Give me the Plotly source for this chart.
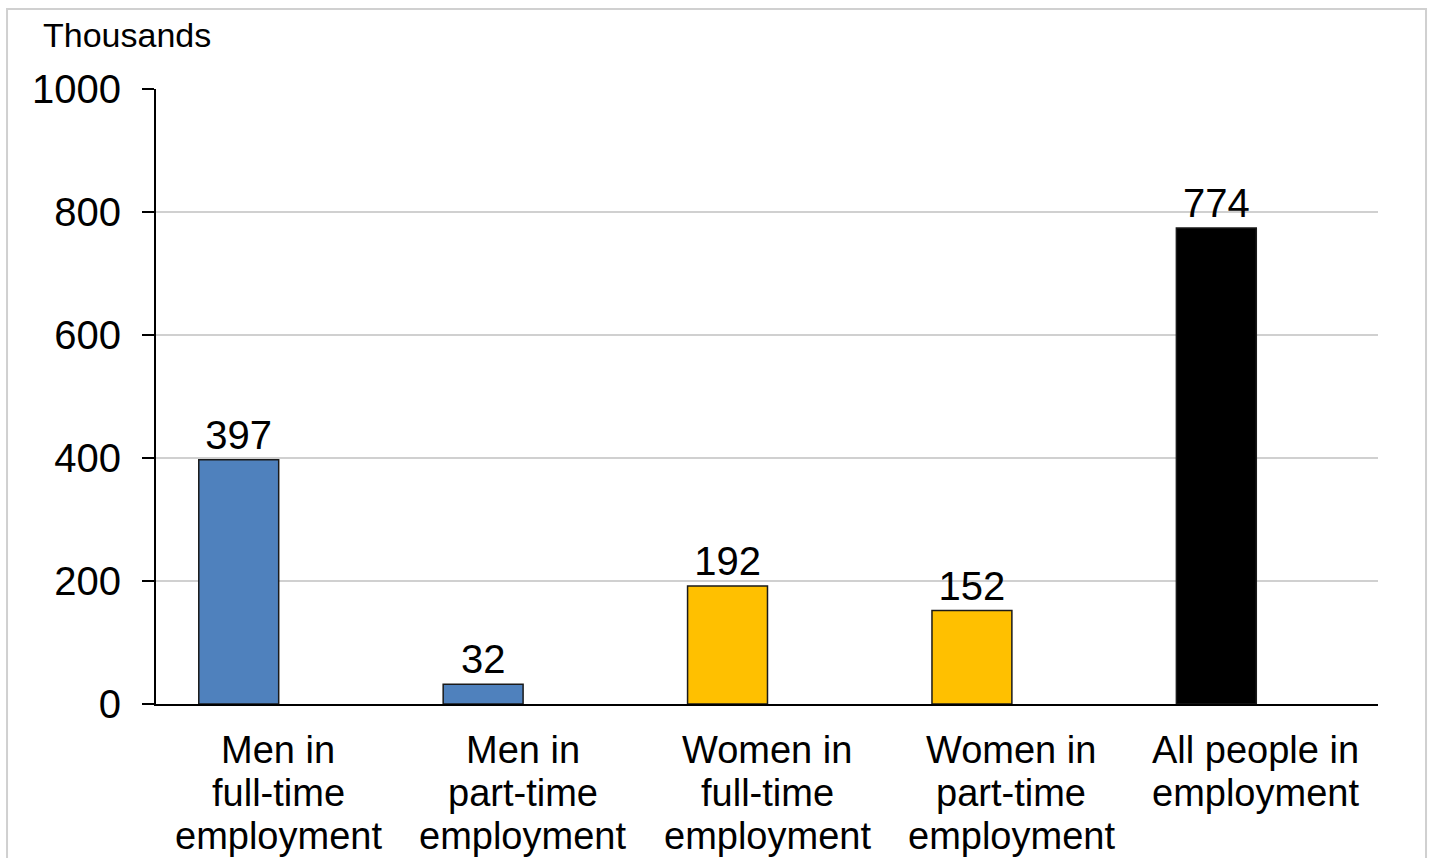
import plotly.graph_objects as go

categories = [
    "Men in full-time employment",
    "Men in part-time employment",
    "Women in full-time employment",
    "Women in part-time employment",
    "All people in employment",
]
category_lines = [
    ["Men in", "full-time", "employment"],
    ["Men in", "part-time", "employment"],
    ["Women in", "full-time", "employment"],
    ["Women in", "part-time", "employment"],
    ["All people in", "employment"],
]
values = [397, 32, 192, 152, 774]
bar_colors = ["#4F81BD", "#4F81BD", "#FFC000", "#FFC000", "#000000"]
y_ticks = [0, 200, 400, 600, 800, 1000]

FONT = "Liberation Sans, Arial, sans-serif"

fig = go.Figure(
    go.Bar(
        x=categories,
        y=values,
        marker=dict(color=bar_colors, line=dict(color="#1a1a1a", width=1.5)),
        width=0.327,
        offset=-0.325,
        text=[str(v) for v in values],
        textposition="outside",
        textfont=dict(family=FONT, size=40, color="#000000"),
        cliponaxis=False,
    )
)

fig.update_layout(
    width=1430,
    height=858,
    margin=dict(l=156, r=52, t=89, b=154, autoexpand=False),
    paper_bgcolor="white",
    plot_bgcolor="white",
    showlegend=False,
    font=dict(family=FONT, color="#000000"),
)

fig.update_yaxes(
    range=[0, 1000],
    tickvals=y_ticks,
    ticktext=[str(t) for t in y_ticks],
    showgrid=True,
    gridcolor="#D0D0D0",
    gridwidth=1.5,
    showline=True,
    linecolor="#000000",
    linewidth=2,
    ticks="outside",
    ticklen=12,
    tickwidth=2,
    tickcolor="#000000",
    tickfont=dict(family=FONT, size=40, color="#000000"),
    ticklabelstandoff=13,
    zeroline=False,
    automargin=False,
)

fig.update_xaxes(
    showline=True,
    linecolor="#000000",
    linewidth=2,
    ticks="",
    showticklabels=False,
    automargin=False,
)

# Category labels, one annotation per line for tighter line spacing
for cat, lines in zip(categories, category_lines):
    for i, line in enumerate(lines):
        fig.add_annotation(
            text=line,
            xref="x", yref="paper",
            x=cat, y=0,
            xanchor="center", yanchor="middle",
            yshift=-(46 + 43 * i),
            showarrow=False,
            borderpad=0,
            font=dict(family=FONT, size=38, color="#000000"),
        )

fig.add_annotation(
    text="Thousands",
    xref="paper", yref="paper",
    x=-0.0945, y=1.088,
    xanchor="left", yanchor="middle",
    showarrow=False,
    font=dict(family=FONT, size=34, color="#000000"),
)

fig.add_shape(
    type="rect",
    xref="paper", yref="paper",
    x0=-0.1219, x1=1.0393, y0=-0.4, y1=1.130,
    line=dict(color="#D0D0D0", width=2),
    fillcolor="rgba(0,0,0,0)",
    layer="below",
)

fig.write_html("out.html")
